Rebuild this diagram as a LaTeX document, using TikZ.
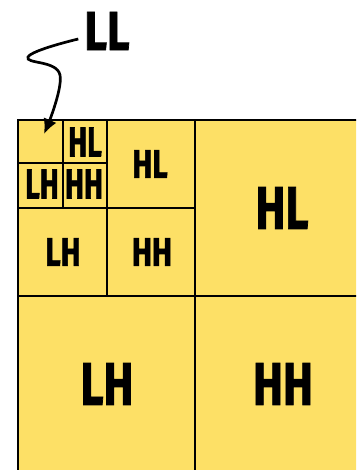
\documentclass[tikz,border=0pt]{standalone}
\usepackage{fontspec}
\setmainfont{Fira Sans}[BoldFeatures={FakeBold=1.6}]
\usepackage{tikz}
\usetikzlibrary{arrows.meta}
\usepackage{xcolor}
\definecolor{bandyellow}{RGB}{253, 224, 102}

\tikzset{
  cellline/.style={line width=2.2pt, line join=miter},
  bandA/.style={font=\fontsize{60}{60}\selectfont\bfseries, xscale=0.75, inner sep=0pt},
  bandB/.style={font=\fontsize{40}{40}\selectfont\bfseries, xscale=0.75, inner sep=0pt},
  bandC/.style={font=\fontsize{42}{42}\selectfont\bfseries, xscale=0.68, inner sep=0pt}
}

\begin{document}
\begin{tikzpicture}[x=1pt, y=-1pt, >=Latex]
    \useasboundingbox (0,0) rectangle (356,470);
    \begin{scope}
      \clip (0,0) rectangle (356,470);
      \fill[bandyellow] (18,120) rectangle (372,474);
      \draw[cellline] (372,120) -- (18,120) -- (18,474);
      \draw[cellline] (195,120) -- (195,474);
      \draw[cellline] (18,296) -- (372,296);
      \draw[cellline] (107,120) -- (107,296);
      \draw[cellline] (18,208) -- (195,208);
      \draw[cellline] (63,120) -- (63,208);
      \draw[cellline] (18,163) -- (107,163);
    \end{scope}
    % level 3
    \node[bandC] (hl3) at (85,142) {HL};
    \node[bandC] (lh3) at (42,184) {LH};
    \node[bandC] (hh3) at (84,184) {HH};
    \coordinate (ll3) at (44,134);
    % level 2
    \node[bandB] (hl2) at (150,164) {HL};
    \node[bandB] (lh2) at (63,252) {LH};
    \node[bandB] (hh2) at (152,252) {HH};
    % level 1
    \node[bandA] (hl1) at (282,208) {HL};
    \node[bandA] (lh1) at (107,384) {LH};
    \node[bandA] (hh1) at (283,384) {HH};
    \node[font=\fontsize{55}{55}\selectfont\bfseries, xscale=0.8, inner sep=0pt] (ll) at (107,31) {LL};
    \draw[->, line width=2.7pt, arrows={-Latex[length=15pt, width=14pt]}]
      plot[smooth, tension=0.7] coordinates {([xshift=-6pt, yshift=-8pt]ll.west) (28,57) (60,75) (ll3)};
  \end{tikzpicture}
\end{document}
